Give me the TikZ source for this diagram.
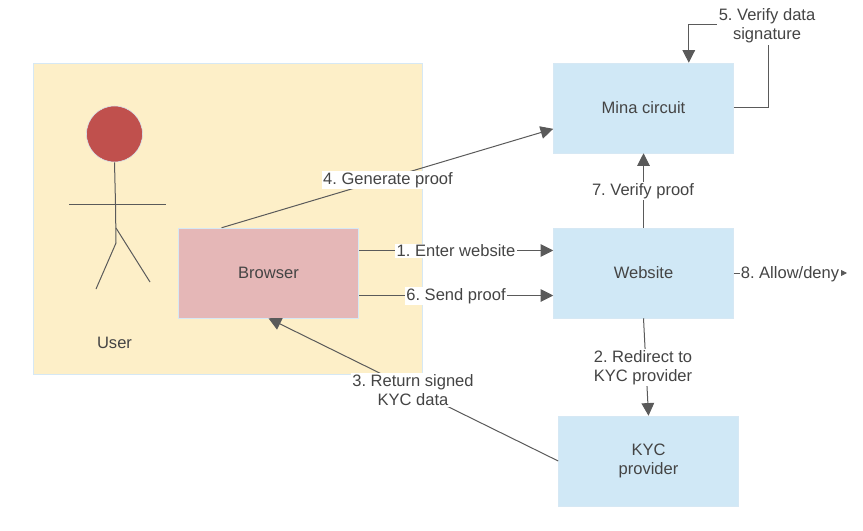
\documentclass[tikz,border=0pt]{standalone}
\usepackage{fontspec}
\setmainfont{Liberation Sans}
\usetikzlibrary{positioning,arrows.meta}
\definecolor{inkgray}{HTML}{444444}
\definecolor{linegray}{HTML}{5A5A5A}
\definecolor{bluefill}{HTML}{D0E8F6}
\definecolor{paleblue}{HTML}{D6E8F4}
\definecolor{userfill}{HTML}{FDEFC8}
\definecolor{browserfill}{HTML}{E5B7B7}
\definecolor{headfill}{HTML}{C0504D}
\tikzset{
  box/.style={draw=paleblue,fill=bluefill,minimum width=135pt,minimum height=67.5pt,align=center,text=inkgray,font=\fontsize{12.4}{14.2}\selectfont\frenchspacing},
  lbl/.style={fill=white,inner sep=1pt,align=center,text=inkgray,font=\fontsize{12.4}{14.2}\selectfont\frenchspacing},
  conn/.style={draw=linegray,line width=0.75pt,-{Triangle[length=9.5pt,width=9.5pt]}},
  stick/.style={draw=linegray,line width=0.75pt}
}
\begin{document}
\begin{tikzpicture}[x=0.75pt,y=-0.75pt]
        \useasboundingbox (0,0) rectangle (863,531);
        % user area
        \node[box,fill=userfill,minimum width=291.5pt,minimum height=233pt] (user) at (227.5,218.5) {};
        \node[circle,draw=paleblue,fill=headfill,minimum size=42pt,inner sep=0pt] (head) at (114.5,134) {};
        \draw[stick] (head.south) -- (115.5,204) -- (116,243) -- (96,289);
        \draw[stick] (116,228) -- (150,282);
        \draw[stick] (69,204) -- (166,204);
        \node[lbl,fill=none] (userlbl) at (114.5,343) {User};

        % boxes
        \node[box,fill=browserfill] (browser) at (268.5,273) {Browser};
        \node[box] (mina) at (643.5,108) {Mina circuit};
        \node[box] (website) at (643.5,273) {Website};
        \node[box] (kyc) at (648.5,461) {KYC\\provider};

        \coordinate (sigtop) at (768,25);
        \coordinate (result) at (847,273);

        % connectors
        \draw[conn] (browser.136) -- (mina.193);
        \draw[conn] (browser.14) -- (website.166);
        \draw[conn] (browser.-14) -- (website.194);
        \draw[conn] (kyc.west) -- (browser.south);
        \draw[conn] (website.south) -- (kyc.north);
        \draw[conn] (website.north) -- (mina.south);
        \draw[conn,-{Triangle[length=5pt,width=5pt]}] (website.east) -- (result);
        \draw[conn] (mina.east) -| (sigtop) -| (mina.45);

        % labels
        \node[lbl] (l1) at (456,251) {1. Enter website};
        \node[lbl] (l2) at (643,367.5) {2. Redirect to\\KYC provider};
        \node[lbl] (l3) at (413,390) {3. Return signed\\KYC data};
        \node[lbl] (l4) at (388,180) {4. Generate proof};
        \node[lbl] (l5) at (767,26) {5. Verify data\\signature};
        \node[lbl] (l6) at (456,296) {6. Send proof};
        \node[lbl] (l7) at (643,191) {7. Verify proof};
        \node[lbl] (l8) at (790,274) {8. Allow/deny};
      \end{tikzpicture}
\end{document}
